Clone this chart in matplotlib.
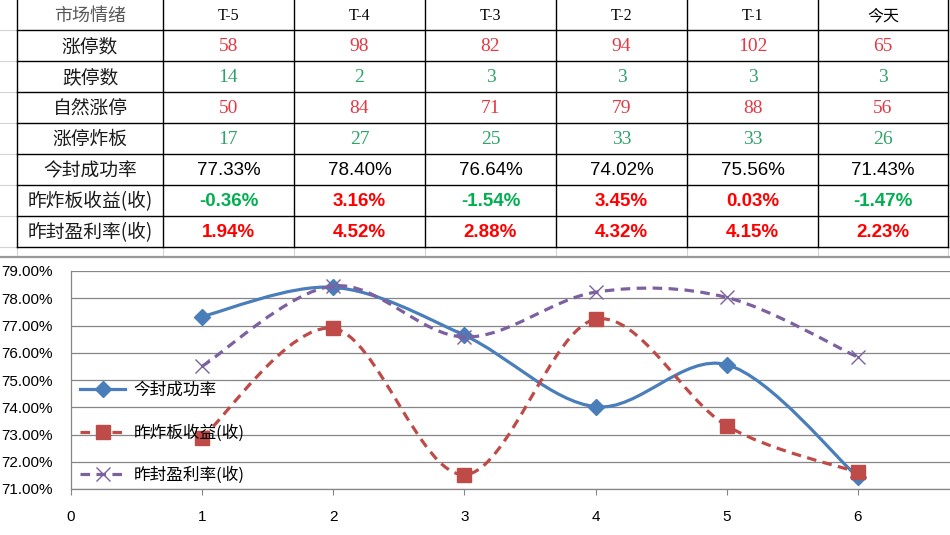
import matplotlib.pyplot as plt
from matplotlib.path import Path
from matplotlib.patches import PathPatch
from matplotlib.lines import Line2D
from matplotlib.ticker import FuncFormatter

# 表格数据
col_heads = ["T-5", "T-4", "T-3", "T-2", "T-1", "今天"]
row_heads = ["涨停数", "跌停数", "自然涨停", "涨停炸板", "今封成功率", "昨炸板收益(收)", "昨封盈利率(收)"]
zt_count = [58, 98, 82, 94, 102, 65]
dt_count = [14, 2, 3, 3, 3, 3]
zr_count = [50, 84, 71, 79, 88, 56]
zb_count = [17, 27, 25, 33, 33, 26]
success_rate = [77.33, 78.40, 76.64, 74.02, 75.56, 71.43]
zb_return = [-0.36, 3.16, -1.54, 3.45, 0.03, -1.47]
fb_return = [1.94, 4.52, 2.88, 4.32, 4.15, 2.23]

# 图表数据
days = [1, 2, 3, 4, 5, 6]
legend_names = ["今封成功率", "昨炸板收益(收)", "昨封盈利率(收)"]

W, H = 950, 535
fig = plt.figure(figsize=(W / 100, H / 100), dpi=100)
fig.patch.set_facecolor("white")

# ---- 表格 (像素坐标) ----
tb = fig.add_axes([0, 0, 1, 1], zorder=0)
tb.set_xlim(0, W)
tb.set_ylim(H, 0)
tb.axis("off")

col_x = [17, 163, 294, 425, 556, 687, 818, 948]
row_y = [-1, 30, 61, 92, 123, 154, 185, 216, 247]

# excel 网格线
for y in row_y[1:]:
    tb.plot([0, 17], [y, y], color="#d4d4d4", lw=0.8)
for x in col_x:
    tb.plot([x, x], [247, 256], color="#d4d4d4", lw=0.8)
tb.plot([0, W], [256.5, 256.5], color="#9a9a9a", lw=1.6)

for y in row_y[1:]:
    tb.plot([17, 948], [y, y], color="black", lw=1.0)
for x in col_x:
    tb.plot([x, x], [0, 247], color="black", lw=1.0)

cjk = ["Noto Sans CJK SC", "DejaVu Sans"]
red_s, green_s = "#e23a44", "#2fa36b"
red_b, green_b = "#ff0000", "#00b050"


def cy(i):
    return (row_y[i] + row_y[i + 1]) / 2 + 1


def cx(j):
    return (col_x[j] + col_x[j + 1]) / 2


tb.text(cx(0), cy(0), "市场情绪", ha="center", va="center", fontsize=13,
        color="#595959", family=cjk, weight="light")
for j, h in enumerate(col_heads):
    fam = cjk if h == "今天" else ["Liberation Serif"]
    tb.text(cx(j + 1), cy(0), h, ha="center", va="center", fontsize=11.5,
            color="black", family=fam, weight="light")

for i, r in enumerate(row_heads):
    tb.text(cx(0), cy(i + 1), r, ha="center", va="center", fontsize=13.5,
            color="#1a1a1a", family=cjk, weight="light")

int_rows = [(zt_count, red_s), (dt_count, green_s), (zr_count, red_s), (zb_count, green_s)]
for i, (vals, c) in enumerate(int_rows):
    for j, v in enumerate(vals):
        tb.text(cx(j + 1), cy(i + 1), str(v), ha="center", va="center",
                fontsize=14, color=c, family="Liberation Serif")

for j, v in enumerate(success_rate):
    tb.text(cx(j + 1), cy(5), f"{v:.2f}%", ha="center", va="center",
            fontsize=13.5, color="black", family="Liberation Sans")
for k, vals in enumerate([zb_return, fb_return]):
    for j, v in enumerate(vals):
        c = red_b if v >= 0 else green_b
        tb.text(cx(j + 1), cy(6 + k), f"{v:.2f}%", ha="center", va="center",
                fontsize=13.5, color=c, family="Liberation Sans", weight="bold")

# ---- 折线图 ----
x0_px, unit_px = 70.8, 131.2
y_top, y_bot = 271, 489
ax = fig.add_axes([x0_px / W, (H - y_bot) / H, (W - x0_px) / W, (y_bot - y_top) / H], zorder=2)
ax.set_facecolor("none")
ax.set_xlim(0, (W - x0_px) / unit_px)
ax.set_ylim(71, 79)
ax.set_yticks(range(71, 80))
ax.yaxis.set_major_formatter(FuncFormatter(lambda v, p: f"{v:.2f}%"))
ax.set_xticks(range(0, 7))
ax.grid(axis="y", color="#868686", lw=0.9)
ax.set_axisbelow(True)
for s in ["top", "right"]:
    ax.spines[s].set_visible(False)
for s in ["left", "bottom"]:
    ax.spines[s].set_color("#868686")
    ax.spines[s].set_linewidth(0.9)
ax.tick_params(axis="y", length=0, pad=13, labelsize=11)
ax.tick_params(axis="x", length=4, color="#868686", pad=11, labelsize=11)
for lab in ax.get_xticklabels() + ax.get_yticklabels():
    lab.set_family("Liberation Sans")

# 收益两条线用隐藏的次坐标轴 (-2% ~ 5%)
ax2 = ax.twinx()
ax2.set_ylim(-2, 5)
ax2.axis("off")


def smooth_path(xs, ys):
    # excel 风格平滑曲线: 三次贝塞尔
    pts = list(zip(xs, ys))
    verts = [pts[0]]
    codes = [Path.MOVETO]
    n = len(pts)
    for i in range(n - 1):
        p0 = pts[i - 1] if i > 0 else pts[i]
        p1, p2 = pts[i], pts[i + 1]
        p3 = pts[i + 2] if i + 2 < n else pts[i + 1]
        c1 = (p1[0] + (p2[0] - p0[0]) / 6, p1[1] + (p2[1] - p0[1]) / 6)
        c2 = (p2[0] - (p3[0] - p1[0]) / 6, p2[1] - (p3[1] - p1[1]) / 6)
        verts += [c1, c2, p2]
        codes += [Path.CURVE4] * 3
    return Path(verts, codes)


blue, red, purple = "#4a7ebb", "#be4b48", "#7d60a0"
lw = 2.3
dash = (0, (3, 2))

ax.add_patch(PathPatch(smooth_path(days, success_rate), fill=False, ec=blue, lw=lw))
ax.plot(days, success_rate, ls="none", marker="D", ms=8, color=blue)

ax2.add_patch(PathPatch(smooth_path(days, zb_return), fill=False, ec=red, lw=lw, ls=dash))
ax2.plot(days, zb_return, ls="none", marker="s", ms=10, color=red)

ax2.add_patch(PathPatch(smooth_path(days, fb_return), fill=False, ec=purple, lw=lw, ls=dash))
ax2.plot(days, fb_return, ls="none", marker="x", ms=10, mew=1, color=purple)

handles = [
    Line2D([], [], color=blue, lw=lw, marker="D", ms=8),
    Line2D([], [], color=red, lw=lw, ls=dash, marker="s", ms=10),
    Line2D([], [], color=purple, lw=lw, ls=dash, marker="x", ms=10, mew=1),
]
leg = ax2.legend(handles, legend_names, loc="upper left",
                 bbox_to_anchor=(80 / W, 1 - 382 / H), bbox_transform=fig.transFigure,
                 frameon=False, labelspacing=1.5, handlelength=2.7,
                 handletextpad=0.5, borderpad=0, borderaxespad=0,
                 prop={"family": cjk, "size": 12})

fig.savefig("out.png", dpi=100, facecolor="white")
